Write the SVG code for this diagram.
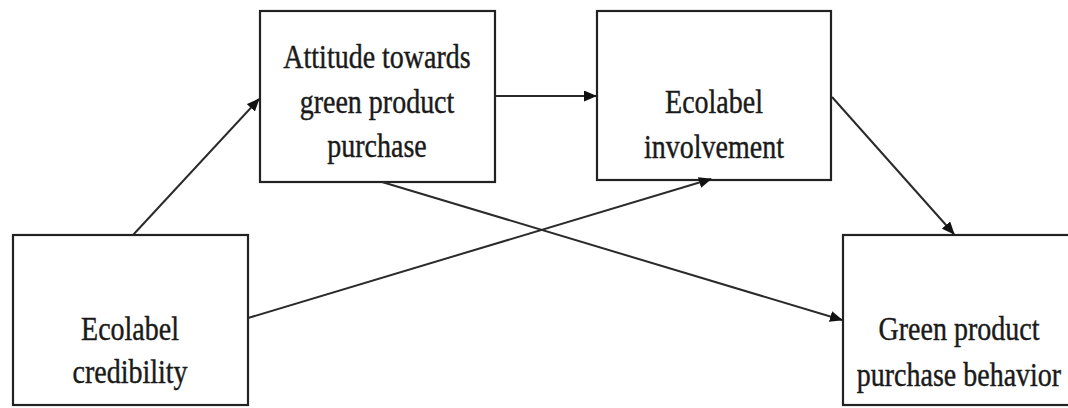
<svg xmlns="http://www.w3.org/2000/svg" width="1068" height="408" viewBox="0 0 1068 408">
<style>
.box{fill:#fff;stroke:#222;stroke-width:2.2}
.t{font-family:"Liberation Serif","Times New Roman",serif;font-size:28px;fill:#1a1a1a;stroke:#1a1a1a;stroke-width:0.35;text-anchor:middle}
.c{stroke:#2a2a2a;stroke-width:2;fill:none;marker-end:url(#ah)}
</style>
<defs>
<marker id="ah" viewBox="0 0 13 11" refX="12" refY="5.5" markerWidth="13" markerHeight="11" markerUnits="userSpaceOnUse" orient="auto">
<path d="M0,0 L13,5.5 L0,11 Z" fill="#111"/>
</marker>
</defs>
<rect width="1068" height="408" fill="#fff"/>
<g id="credibility">
<rect class="box" x="13" y="235" width="235" height="170"/>
<text class="t" transform="translate(130,340) scale(1,1.18)">Ecolabel</text>
<text class="t" transform="translate(130,383) scale(1,1.18)">credibility</text>
</g>
<g id="attitude">
<rect class="box" x="260" y="11" width="235" height="171"/>
<text class="t" transform="translate(377,68) scale(1,1.18)">Attitude towards</text>
<text class="t" transform="translate(377,113) scale(1,1.18)">green product</text>
<text class="t" transform="translate(377,157) scale(1,1.18)">purchase</text>
</g>
<g id="involvement">
<rect class="box" x="597" y="11" width="234" height="169"/>
<text class="t" transform="translate(714,113) scale(1,1.18)">Ecolabel</text>
<text class="t" transform="translate(714,158) scale(1,1.18)">involvement</text>
</g>
<g id="behavior">
<rect class="box" x="843" y="235" width="230" height="170"/>
<text class="t" transform="translate(959,340) scale(1,1.18)">Green product</text>
<text class="t" transform="translate(959,386) scale(1,1.18)">purchase behavior</text>
</g>
<g id="connectors">
<line class="c" x1="133" y1="235" x2="259" y2="99"/>
<line class="c" x1="495" y1="96" x2="596" y2="96"/>
<line class="c" x1="248" y1="318" x2="711" y2="179"/>
<line class="c" x1="382" y1="182" x2="842" y2="320"/>
<line class="c" x1="832" y1="97" x2="954" y2="234"/>
</g>
</svg>
